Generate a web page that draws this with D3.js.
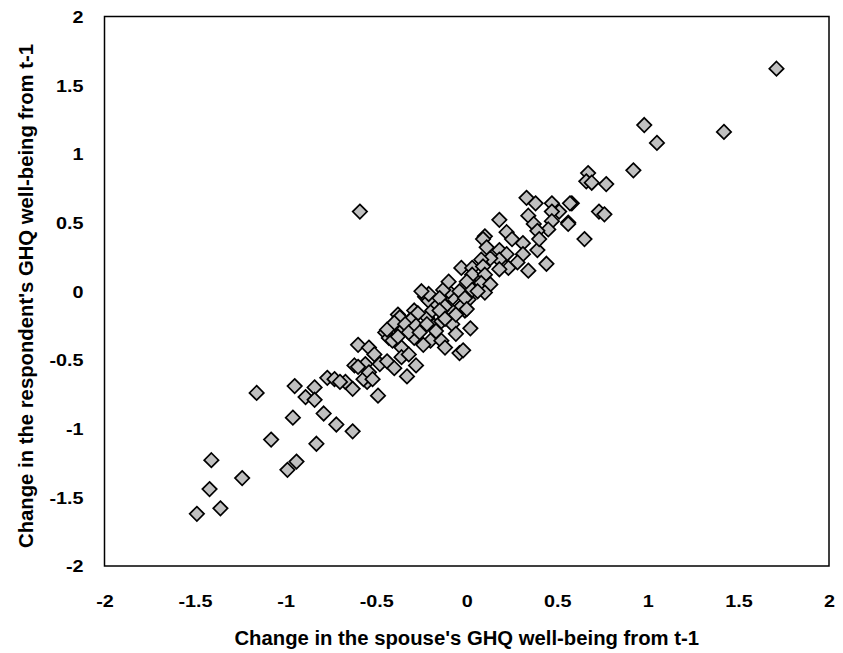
<script src="https://d3js.org/d3.v7.min.js"></script>
<style>
    body { margin: 0; background: #fff; }
    text { font-family: "Liberation Sans", Arial, sans-serif; font-weight: bold; fill: #000; }
</style>
<div id="chart"></div>
<script>
    const width = 843;
    const height = 653;

    // change in the spouse's GHQ well-being (x) and the respondent's (y)
    const spouseChange = [
        -1.49, -1.42, -1.36, -1.41, -1.24, -1.08, -1.16, -0.95, -0.84, -0.89,
        -0.84, -0.96, -0.79, -0.72, -0.63, -0.83, -0.94, -0.99, -0.77, -0.73,
        -0.67, -0.63, -0.62, -0.56, -0.55, -0.57, -0.60, -0.54, -0.51, -0.60,
        -0.54, -0.52, -0.49, -0.48, -0.44, -0.40, -0.45, -0.43, -0.38, -0.36,
        -0.41, -0.36, -0.36, -0.32, -0.29, -0.28, -0.33, -0.29, -0.32, -0.23,
        -0.21, -0.22, -0.19, -0.18, -0.20, -0.26, -0.24, -0.14, -0.14, -0.08,
        -0.06, -0.12, -0.04, -0.02, 0.02, -0.01, -0.03, 0.01, -0.08, -0.10,
        -0.04, 0.03, -0.13, -0.16, -0.10, -0.06, -0.14, 0.33, 0.38, 0.47,
        0.58, 0.51, 0.47, 0.34, 0.18, 0.37, 0.47, 0.56, 0.45, 0.39,
        0.65, 0.10, 0.09, 0.22, 0.25, 0.31, 0.39, 0.40, 0.18, 0.11,
        0.22, 0.31, 0.28, 0.44, 0.34, 0.23, 0.18, 0.13, 0.08, -0.03,
        0.03, 0.09, 0.03, 0.10, 0.18, -0.10, 0.00, 0.08, 0.13, 0.03,
        0.10, -0.21, -0.15, -0.01, 0.06, -0.12, 0.00, 1.71, 0.98, 1.05,
        1.42, 0.92, 0.67, 0.66, 0.69, 0.77, 0.73, 0.76, 0.57, 0.56,
        -0.59, -0.25, -0.27, -0.37, -0.31, -0.40, -0.34, -0.44, -0.32, -0.38,
        -0.28, -0.22, -0.26, -0.17, -0.15, -0.12, -0.70
    ];
    const respondentChange = [
        -1.62, -1.44, -1.58, -1.23, -1.36, -1.08, -0.74, -0.69, -0.70, -0.77,
        -0.79, -0.92, -0.89, -0.97, -1.02, -1.11, -1.24, -1.30, -0.63, -0.64,
        -0.66, -0.71, -0.54, -0.53, -0.66, -0.64, -0.39, -0.41, -0.46, -0.55,
        -0.59, -0.64, -0.76, -0.53, -0.51, -0.56, -0.30, -0.34, -0.17, -0.29,
        -0.36, -0.41, -0.48, -0.46, -0.34, -0.54, -0.62, -0.14, -0.22, -0.04,
        -0.07, -0.19, -0.14, -0.25, -0.36, -0.28, -0.39, -0.22, -0.36, -0.24,
        -0.31, -0.41, -0.45, -0.43, -0.27, -0.14, -0.11, -0.06, -0.05, 0.00,
        0.00, 0.05, 0.01, -0.10, -0.12, -0.17, -0.14, 0.68, 0.64, 0.64,
        0.64, 0.58, 0.58, 0.55, 0.52, 0.49, 0.51, 0.50, 0.45, 0.44,
        0.38, 0.40, 0.38, 0.43, 0.38, 0.35, 0.30, 0.38, 0.30, 0.32,
        0.27, 0.27, 0.21, 0.20, 0.15, 0.17, 0.23, 0.24, 0.23, 0.17,
        0.17, 0.18, 0.12, 0.12, 0.16, 0.07, 0.07, 0.06, 0.05, 0.01,
        -0.01, -0.02, -0.05, -0.05, 0.00, -0.11, -0.13, 1.62, 1.21, 1.08,
        1.16, 0.88, 0.86, 0.80, 0.79, 0.78, 0.58, 0.56, 0.64, 0.49,
        0.58, 0.00, -0.16, -0.19, -0.21, -0.23, -0.24, -0.28, -0.30, -0.33,
        -0.25, -0.24, -0.30, -0.29, -0.14, -0.20, -0.66
    ];

    const tickValues = [-2, -1.5, -1, -0.5, 0, 0.5, 1, 1.5, 2];
    const tickLabels = ["-2", "-1.5", "-1", "-0.5", "0", "0.5", "1", "1.5", "2"];

    const xTitle = "Change in the spouse's GHQ well-being from t-1";
    const yTitle = "Change in the respondent's GHQ well-being from t-1";

    const margin = {top: 16.5, right: 14, bottom: 87, left: 104.5};

    const svg = d3.select("#chart")
        .append("svg")
        .attr("width", width)
        .attr("height", height);

    const x = d3.scaleLinear()
        .domain([-2, 2])
        .range([margin.left, width - margin.right]);
    const y = d3.scaleLinear()
        .domain([-2, 2])
        .range([height - margin.bottom, margin.top]);

    const fmt = d => tickLabels[tickValues.indexOf(d)];
    const stretch = 1.2; // tick labels are drawn wider than tall

    // axes: labels only, no tick marks
    const xAxis = svg.append("g")
        .attr("transform", `translate(0,${height - margin.bottom})`)
        .call(d3.axisBottom(x).tickValues(tickValues).tickFormat(fmt).tickSize(0).tickPadding(29));
    const yAxis = svg.append("g")
        .attr("transform", `translate(${margin.left},0)`)
        .call(d3.axisLeft(y).tickValues(tickValues).tickFormat(fmt).tickSize(0).tickPadding(21));

    for (const g of [xAxis, yAxis]) {
        g.select(".domain").remove();
        g.selectAll("text")
            .attr("font-family", "Liberation Sans, Arial, sans-serif")
            .attr("font-weight", "bold")
            .attr("font-size", 16.5)
            .attr("fill", "#000")
            .attr("transform", `scale(${stretch},1)`);
    }
    yAxis.selectAll("text").attr("x", -21 / stretch).attr("dy", "0.36em");

    // plot frame
    svg.append("rect")
        .attr("x", x(-2))
        .attr("y", y(2))
        .attr("width", x(2) - x(-2))
        .attr("height", y(-2) - y(2))
        .attr("fill", "none")
        .attr("stroke", "#000")
        .attr("stroke-width", 1.5);

    // diamond markers
    const r = 7.2;
    const diamond = `M0,${-r}L${r},0L0,${r}L${-r},0Z`;
    const points = spouseChange.map((d, i) => ({sx: d, ry: respondentChange[i]}));

    svg.append("g")
        .selectAll("path")
        .data(points)
        .join("path")
        .attr("d", diamond)
        .attr("transform", d => `translate(${x(d.sx)},${y(d.ry)})`)
        .attr("fill", "#c0c0c0")
        .attr("stroke", "#000")
        .attr("stroke-width", 1.7);

    // axis titles
    svg.append("text")
        .attr("x", (x(-2) + x(2)) / 2)
        .attr("y", 645)
        .attr("text-anchor", "middle")
        .attr("font-size", 20.3)
        .text(xTitle);

    svg.append("text")
        .attr("transform", `translate(33,296) rotate(-90)`)
        .attr("text-anchor", "middle")
        .attr("font-size", 20.3)
        .text(yTitle);
</script>
